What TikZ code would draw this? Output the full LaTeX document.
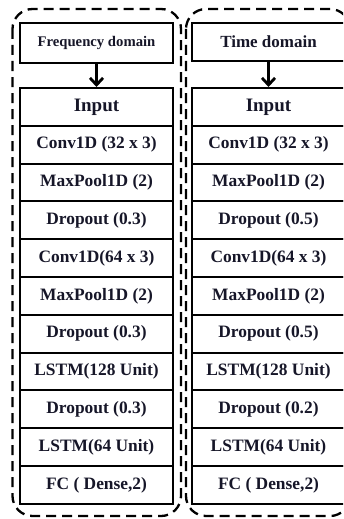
\documentclass[tikz,border=0pt]{standalone}
\usepackage{fontspec}
\setmainfont{Liberation Serif}
\usetikzlibrary{arrows.meta}
\definecolor{ink}{RGB}{22,22,40}
\begin{document}
\begin{tikzpicture}[x=1pt,y=-1pt,
  box/.style={draw=black, line width=1.9pt, minimum width=153pt, inner sep=0pt,
    anchor=north, text=ink},
  layer/.style={box, minimum height=37.8pt, font=\fontsize{17.4}{19}\selectfont\bfseries},
  header/.style={box, minimum height=39pt},
  group/.style={dash pattern=on 10pt off 6pt, line width=2.3pt, rounded corners=20pt},
  flow/.style={line width=2.8pt, -{Straight Barb[length=7pt,width=13pt,line width=2.8pt]}}]
\useasboundingbox (0,0) rectangle (343,519);
\clip (0,0) rectangle (343,519);

% dashed group outlines
\draw[group] (12.5,9) rectangle (181,516);
\draw[group] (186,9) rectangle (350,516);

% headers
\node[header, minimum height=40pt, font=\fontsize{14.7}{16}\selectfont\bfseries]
  (fh) at (96.5,22) {Frequency domain};
\node[header, minimum height=38pt, font=\fontsize{17}{19}\selectfont\bfseries]
  (th) at (268.5,22) {Time domain};

% frequency-domain branch
\node[layer, font=\fontsize{19}{21}\selectfont\bfseries] (L1) at (96.5,87) {Input};
\foreach \t [count=\i from 2] in {{Conv1D (32 x 3)},{MaxPool1D (2)},{Dropout (0.3)},
    {Conv1D(64 x 3)},{MaxPool1D (2)},{Dropout (0.3)},{LSTM(128 Unit)},
    {Dropout (0.3)},{LSTM(64 Unit)},{FC ( Dense,2)}}
  \node[layer] (L\i) at (96.5,{87+37.8*(\i-1)}) {\t};

% time-domain branch
\node[layer, font=\fontsize{19}{21}\selectfont\bfseries] (R1) at (268.5,87) {Input};
\foreach \t [count=\i from 2] in {{Conv1D (32 x 3)},{MaxPool1D (2)},{Dropout (0.5)},
    {Conv1D(64 x 3)},{MaxPool1D (2)},{Dropout (0.5)},{LSTM(128 Unit)},
    {Dropout (0.2)},{LSTM(64 Unit)},{FC ( Dense,2)}}
  \node[layer] (R\i) at (268.5,{87+37.8*(\i-1)}) {\t};

% header-to-input arrows
\draw[flow] (fh.south) -- (L1.north);
\draw[flow] (th.south) -- (R1.north);
\end{tikzpicture}
\end{document}
